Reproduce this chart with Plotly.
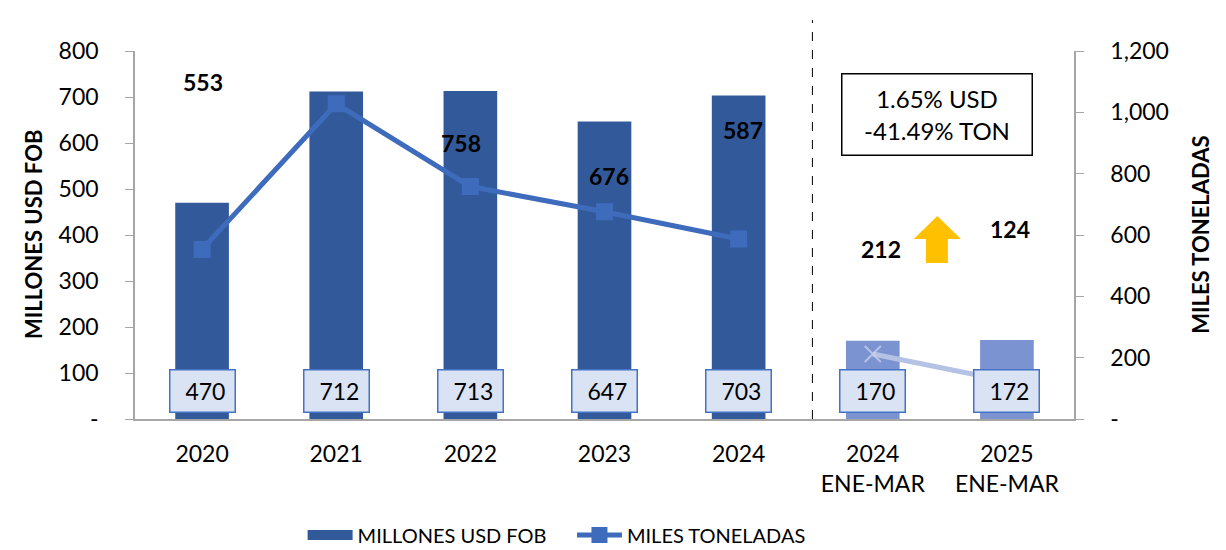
import plotly.graph_objects as go

# Datos
categorias = ['2020', '2021', '2022', '2023', '2024', '2024<br>ENE-MAR', '2025<br>ENE-MAR']
usd_fob = [470, 712, 713, 647, 703, 170, 172]
miles_ton = [553, 1028, 758, 676, 587]
miles_ton_periodo = [212, 124]
variacion = ['1.65% USD', '-41.49% TON']

y_left_ticks = [0, 100, 200, 300, 400, 500, 600, 700, 800]
y_right_ticks = [0, 200, 400, 600, 800, 1000, 1200]

FONT = 'Lato'
AZUL = '#325a9a'
AZUL_CLARO = '#7b93d0'
LINEA = '#3f6bbd'
LINEA_CLARA = '#b4c2e4'

colores = [AZUL] * 5 + [AZUL_CLARO] * 2
idx = list(range(len(categorias)))

fig = go.Figure()

fig.add_trace(go.Bar(
    x=idx, y=usd_fob, name='MILLONES USD FOB', showlegend=False,
    marker=dict(color=colores, line=dict(width=0)),
    width=0.4, yaxis='y',
))

# entrada de leyenda con símbolo rectangular ancho
fig.add_trace(go.Scatter(
    x=[None], y=[None], name='MILLONES USD FOB' + '\u00a0' * 4, mode='lines',
    line=dict(color=AZUL, width=16),
))

fig.add_trace(go.Scatter(
    x=idx[:5], y=miles_ton, name='MILES TONELADAS',
    mode='lines+markers', yaxis='y2',
    line=dict(color=LINEA, width=5),
    marker=dict(symbol='square', size=17, color=LINEA),
))

fig.add_trace(go.Scatter(
    x=idx[5:], y=miles_ton_periodo, showlegend=False,
    mode='lines+markers', yaxis='y2',
    line=dict(color=LINEA_CLARA, width=5),
    marker=dict(symbol=['x-thin', 'square'], size=[16, 0],
                color='#d0d9f0', line=dict(color='#d0d9f0', width=2)),
))

annotations = []

# etiquetas de USD en cajas al pie de cada barra
for i, v in zip(idx, usd_fob):
    annotations.append(dict(
        x=i, xref='x', y=0.076, yref='paper', yanchor='middle', text='\u00a0' + f'{v:,}',
        showarrow=False, font=dict(family=FONT, size=23, color='black'),
        bgcolor='#dae3f3', bordercolor='#4472c4', borderwidth=1.5,
        width=60, height=37, borderpad=2,
    ))

# etiquetas de toneladas (posición vertical en unidades del eje derecho)
ton_todas = miles_ton + miles_ton_periodo
pos_y_ton = [1099, 1311, 900, 792, 942, 554, 620]
desp_x_ton = [1, 13, -9, 4, 4, 8, 3]
for i, v, py, dx in zip(idx, ton_todas, pos_y_ton, desp_x_ton):
    annotations.append(dict(
        x=i, xref='x', y=py, yref='y2', yanchor='middle', text=f'<b>{v:,}</b>',
        showarrow=False, xshift=dx,
        font=dict(family=FONT, size=23, color='black'),
    ))

# caja de variación
annotations.append(dict(
    x=5.48, xref='x', y=(419 - 114) / 368, yref='paper', yanchor='middle',
    text='<br>'.join(variacion), showarrow=False,
    font=dict(family=FONT, size=24, color='black'),
    bordercolor='black', borderwidth=1.5, bgcolor='white',
    width=187, height=78,
))

# títulos de ejes
annotations.append(dict(
    x=-0.1086, xref='paper', xanchor='center', y=0.5, yref='paper', yanchor='middle',
    text='<b>MILLONES USD FOB</b>', textangle=-90, showarrow=False,
    font=dict(family=FONT, size=22, color='black'),
))
annotations.append(dict(
    x=1.134, xref='paper', xanchor='center', y=0.5, yref='paper', yanchor='middle',
    text='<b>MILES TONELADAS</b>', textangle=-90, showarrow=False,
    font=dict(family=FONT, size=22, color='black'),
))

shapes = [
    # línea punteada separadora
    dict(type='line', xref='x', yref='paper', x0=4.55, x1=4.55, y0=0, y1=1.084,
         line=dict(color='black', width=1, dash='dash')),
    # flecha amarilla
    dict(type='path', xref='x', yref='y2', fillcolor='#ffc000', line=dict(width=0),
         path='M 5.306 587 L 5.481 662 L 5.657 587 L 5.560 587 L 5.560 509 '
              'L 5.396 509 L 5.396 587 Z'),
]

fig.update_layout(
    width=1226, height=550,
    margin=dict(l=127, r=160, t=43, b=139, autoexpand=False),
    paper_bgcolor='white', plot_bgcolor='white',
    font=dict(family=FONT, size=23, color='black'),
    showlegend=True,
    legend=dict(orientation='h', x=0.449, xanchor='center', y=-0.315, yanchor='middle',
                font=dict(family=FONT, size=20, color='black'),
                itemwidth=45, tracegroupgap=0, bgcolor='rgba(0,0,0,0)'),
    xaxis=dict(
        range=[-0.5, 6.5], tickvals=idx, ticktext=categorias,
        showline=True, linecolor='#a6a6a6',
        linewidth=1.5, ticks='', showgrid=False, zeroline=False, automargin=False,
        ticklabelstandoff=14,
        tickfont=dict(family=FONT, size=23, color='black'),
    ),
    yaxis=dict(
        range=[0, 800], tickvals=y_left_ticks,
        ticktext=['-'] + [f'{t:,}' for t in y_left_ticks[1:]],
        showline=True, linecolor='#a6a6a6', linewidth=1.5, ticks='outside',
        ticklen=8, tickcolor='#a6a6a6', showgrid=False, zeroline=False, automargin=False,
        ticklabelstandoff=22, tickfont=dict(family=FONT, size=23, color='black'),
    ),
    yaxis2=dict(
        range=[0, 1200], tickvals=y_right_ticks,
        ticktext=['-'] + [f'{t:,}' for t in y_right_ticks[1:]],
        overlaying='y', side='right',
        showline=True, linecolor='#a6a6a6', linewidth=1.5, ticks='outside',
        ticklen=8, tickcolor='#a6a6a6', showgrid=False, zeroline=False, automargin=False,
        ticklabelstandoff=22, tickfont=dict(family=FONT, size=23, color='black'),
    ),
    annotations=annotations,
    shapes=shapes,
)

fig.write_html('out.html')
